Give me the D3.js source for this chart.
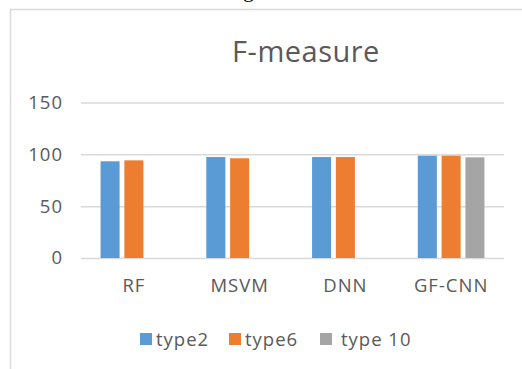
<!DOCTYPE html>
<html><head><meta charset="utf-8">
<script src="https://cdn.jsdelivr.net/npm/d3@7"></script>
<style>body{margin:0;background:#fff;} svg{display:block;font-family:"Open Sans", Lato, sans-serif;}</style>
</head><body>
<svg id="c" width="522" height="369"></svg>
<script>
const categories = ["RF", "MSVM", "DNN", "GF-CNN"];
const seriesNames = ["type2", "type6", "type 10"];
const type2 = [93.3, 97.4, 97.4, 98.7];
const type6 = [94.2, 96.2, 97.4, 98.7];
const type10 = [null, null, null, 97.1];
const yTicks = [0, 50, 100, 150];
const colors = ["#5B9BD5", "#ED7D31", "#A5A5A5"];
const seriesValues = [type2, type6, type10];

const svg = d3.select("#c");
const textColor = "#595959";
const font = "'Open Sans', sans-serif";

// frame
svg.append("path").attr("d", "M10.5,369 V9.5 H522").attr("fill", "none").attr("stroke", "#d9d9d9").attr("stroke-width", 1.5);
// fragment of caption text above frame
svg.append("text").attr("x", 243).attr("y", -3).attr("font-family", "Liberation Serif, serif").attr("font-size", 22).attr("fill", "#000").text("g");

svg.append("text").attr("x", 306).attr("y", 62).attr("text-anchor", "middle")
  .attr("font-size", 29).attr("letter-spacing", 0.5).attr("font-family", font).attr("fill", textColor).text("F-measure");

const y = d3.scaleLinear().domain([0, 150]).range([258, 102.5]);
const x = d3.scaleBand().domain(categories).range([81, 504]).paddingInner(0.37).paddingOuter(0.185);
const xi = d3.scaleBand().domain(seriesNames).range([0, x.bandwidth()]).paddingInner(0.2);

const yAxis = d3.axisLeft(y).tickValues(yTicks).tickSize(-(504 - 81)).tickPadding(18);
const ga = svg.append("g").attr("transform", "translate(81,0)").call(yAxis);
ga.select(".domain").remove();
ga.selectAll(".tick line").attr("stroke", "#d9d9d9").attr("stroke-width", 1.5);
ga.selectAll(".tick text").attr("fill", textColor).attr("font-size", 18.5).attr("letter-spacing", 1).attr("font-family", font);

const rows = categories.map((c, i) => ({c, vals: seriesNames.map((s, j) => ({s, j, v: seriesValues[j][i]}))}));
svg.append("g").selectAll("g").data(rows).join("g")
  .attr("transform", d => `translate(${x(d.c)},0)`)
  .selectAll("rect").data(d => d.vals.filter(v => v.v != null)).join("rect")
  .attr("x", d => xi(d.s)).attr("width", xi.bandwidth())
  .attr("y", d => y(d.v)).attr("height", d => y(0) - y(d.v))
  .attr("fill", d => colors[d.j]);

const xAxis = d3.axisBottom(x).tickSize(0).tickPadding(21);
const gx = svg.append("g").attr("transform", "translate(0,258)").call(xAxis);
gx.select(".domain").remove();
gx.selectAll(".tick text").attr("fill", textColor).attr("font-size", 18.5).attr("letter-spacing", 1).attr("font-family", font);

// legend
const legendX = [140, 229, 320];
const textX = [156, 245, 341];
const lg = svg.append("g");
seriesNames.forEach((s, j) => {
  lg.append("rect").attr("x", legendX[j]).attr("y", 333).attr("width", 12).attr("height", 12).attr("fill", colors[j]);
  lg.append("text").attr("x", textX[j]).attr("y", 345.5).attr("font-size", 18.5).attr("letter-spacing", 1).attr("font-family", font).attr("fill", textColor).text(s);
});
</script>
</body></html>
